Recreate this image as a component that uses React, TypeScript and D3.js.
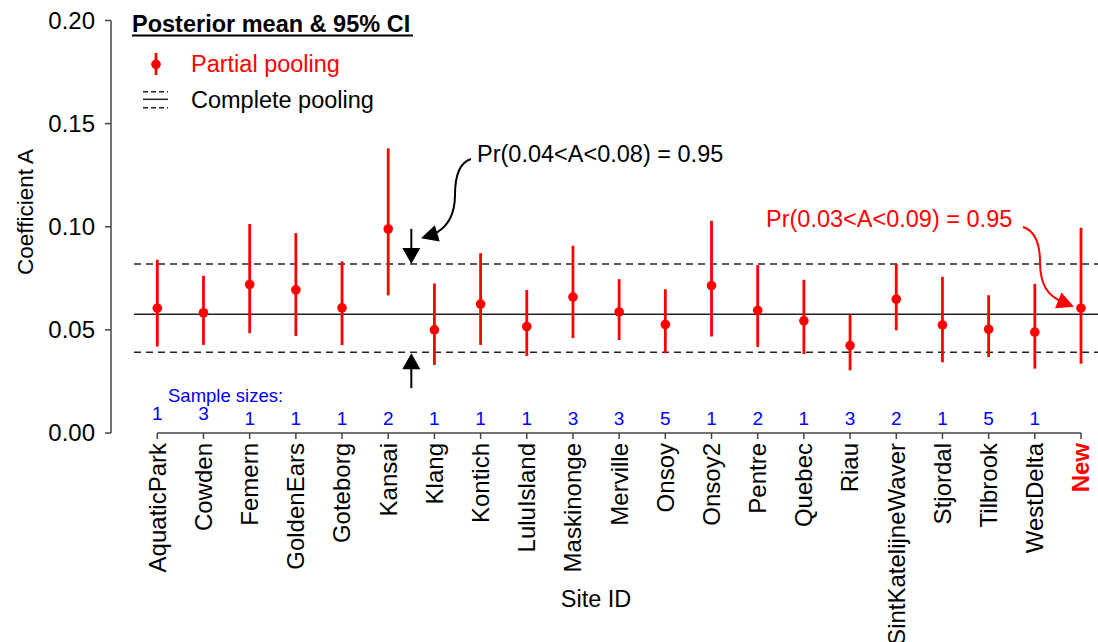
import React from "react";
import * as d3 from "d3";

const sites = [
  "AquaticPark", "Cowden", "Femern", "GoldenEars", "Goteborg", "Kansai", "Klang",
  "Kontich", "LuluIsland", "Maskinonge", "Merville", "Onsoy", "Onsoy2", "Pentre",
  "Quebec", "Riau", "SintKatelijneWaver", "Stjordal", "Tilbrook", "WestDelta", "New",
];
const means = [
  0.0605, 0.0583, 0.072, 0.0694, 0.0607, 0.0989, 0.05, 0.0625, 0.0516, 0.0659,
  0.0587, 0.0526, 0.0715, 0.0595, 0.0544, 0.0424, 0.0649, 0.0524, 0.0503, 0.0489, 0.0605,
];
const lower = [
  0.0419, 0.0427, 0.0484, 0.0471, 0.0426, 0.0667, 0.033, 0.0427, 0.0374, 0.046,
  0.0451, 0.0387, 0.0468, 0.0417, 0.0383, 0.0304, 0.0498, 0.0343, 0.0369, 0.0312, 0.0336,
];
const upper = [
  0.084, 0.0762, 0.1013, 0.0969, 0.0832, 0.138, 0.0725, 0.0872, 0.0693, 0.0908,
  0.0746, 0.0697, 0.1029, 0.0814, 0.0743, 0.0574, 0.082, 0.0757, 0.0668, 0.0723, 0.0995,
];
const sampleSizes = [1, 3, 1, 1, 1, 2, 1, 1, 1, 3, 3, 5, 1, 2, 1, 3, 2, 1, 5, 1];
const pooledMean = 0.0576;
const pooledLower = 0.0392;
const pooledUpper = 0.082;
const yTicks = [0, 0.05, 0.1, 0.15, 0.2];

const W = 1098;
const H = 642;
const FONT = "'Liberation Sans', Arial, Helvetica, sans-serif";
const RED = "#ff0000";
const BLUE = "#0000ff";

function arrowHead(tx: number, ty: number, dx: number, dy: number, len: number, hw: number) {
  const n = Math.hypot(dx, dy);
  const ux = dx / n, uy = dy / n;
  const bx = tx - ux * len, by = ty - uy * len;
  const px = -uy, py = ux;
  return `${tx},${ty} ${bx + px * hw},${by + py * hw} ${bx - px * hw},${by - py * hw}`;
}

export default function App() {
  const x = d3.scalePoint<string>().domain(sites).range([157.3, 1081]);
  const y = d3.scaleLinear().domain([0, 0.2]).range([433, 20.5]);
  const xMid = ((x("Kansai") as number) + (x("Klang") as number)) / 2;
  const newX = x("New") as number;
  const newY = y(means[means.length - 1]);

  const a1 = { x: 477, y: 162 };
  const a2 = { x: 766, y: 227 };
  const p1 = `M${a1.x - 6},${a1.y - 3} C${a1.x - 19},${a1.y + 1} ${a1.x - 22},${a1.y + 16} ${a1.x - 22},${a1.y + 33} C${a1.x - 22},${a1.y + 53} ${a1.x - 29},${a1.y + 66} ${a1.x - 45},${a1.y + 73}`;
  const tip2 = { x: newX - 7, y: newY - 1.5 };
  const p2 = `M${a2.x + 257},${a2.y} C${a2.x + 269},${a2.y + 4} ${a2.x + 274},${a2.y + 18} ${a2.x + 274},${a2.y + 35} C${a2.x + 274},${a2.y + 58} ${a2.x + 282},${a2.y + 69} ${tip2.x - 12},${tip2.y - 5}`;

  const yUp = y(pooledUpper);
  const yLo = y(pooledLower);

  return (
    <svg width={W} height={H} style={{ position: "absolute", left: 0, top: 0, background: "#fff" }} fontFamily={FONT}>
      {/* reference lines */}
      <line x1={134} x2={W} y1={y(pooledMean)} y2={y(pooledMean)} stroke="#222" strokeWidth={1.5} />
      <line x1={134} x2={W} y1={yUp} y2={yUp} stroke="#222" strokeWidth={1.5} strokeDasharray="7,5" />
      <line x1={134} x2={W} y1={yLo} y2={yLo} stroke="#222" strokeWidth={1.5} strokeDasharray="7,5" />

      {/* y axis */}
      <line x1={111} x2={111} y1={y(0)} y2={y(0.2)} stroke="#444" strokeWidth={1.5} />
      {yTicks.map((t) => (
        <g key={t}>
          <line x1={105} x2={111} y1={y(t)} y2={y(t)} stroke="#444" strokeWidth={1.5} />
          <text x={95} y={y(t)} dy="0.35em" textAnchor="end" fontSize={24}>
            {t.toFixed(2)}
          </text>
        </g>
      ))}
      <text transform={`translate(33,212) rotate(-90)`} textAnchor="middle" fontSize={22.5}>
        Coefficient A
      </text>

      {/* x axis */}
      <line x1={x(sites[0])} x2={newX} y1={433} y2={433} stroke="#444" strokeWidth={1.5} />
      {sites.map((s, i) => {
        const xi = x(s) as number;
        const isNew = i === sites.length - 1;
        return (
          <g key={s}>
            <line x1={xi} x2={xi} y1={433} y2={439} stroke="#444" strokeWidth={1.5} />
            <text
              transform={`translate(${xi},443) rotate(-90)`}
              dy="0.35em"
              textAnchor="end"
              fontSize={24}
              fill={isNew ? RED : "#000"}
              fontWeight={isNew ? "bold" : "normal"}
            >
              {s}
            </text>
          </g>
        );
      })}
      <text x={596} y={607} textAnchor="middle" fontSize={23.5}>
        Site ID
      </text>

      {/* sample sizes */}
      <text x={168} y={402} fontSize={18.5} fill={BLUE}>
        Sample sizes:
      </text>
      {sampleSizes.map((n, i) => (
        <text key={i} x={x(sites[i]) as number} y={i < 2 ? 419.5 : 424.5} textAnchor="middle" fontSize={19} fill={BLUE}>
          {n}
        </text>
      ))}

      {/* error bars and points */}
      {sites.map((s, i) => {
        const xi = x(s) as number;
        return (
          <g key={s}>
            <line x1={xi} x2={xi} y1={y(lower[i])} y2={y(upper[i])} stroke={RED} strokeWidth={2.8} />
            <circle cx={xi} cy={y(means[i])} r={4.8} fill={RED} />
          </g>
        );
      })}

      {/* straight arrows */}
      <line x1={xMid} x2={xMid} y1={yUp - 35} y2={yUp - 12} stroke="#000" strokeWidth={2} />
      <polygon points={arrowHead(xMid, yUp, 0, 1, 16, 9)} fill="#000" />
      <line x1={xMid} x2={xMid} y1={yLo + 36} y2={yLo + 12} stroke="#000" strokeWidth={2} />
      <polygon points={arrowHead(xMid, yLo + 1, 0, -1, 16, 9)} fill="#000" />

      {/* curved annotations */}
      <path d={p1} fill="none" stroke="#000" strokeWidth={2} />
      <polygon points={arrowHead(a1.x - 56, a1.y + 76.3, -11, 3.3, 17, 8.5)} fill="#000" />
      <text x={a1.x} y={a1.y} fontSize={23.5}>
        Pr(0.04&lt;A&lt;0.08) = 0.95
      </text>

      <path d={p2} fill="none" stroke={RED} strokeWidth={2} />
      <polygon points={arrowHead(tip2.x, tip2.y, 14, 5.7, 17, 8.5)} fill={RED} />
      <text x={a2.x} y={a2.y} fontSize={23.5} fill={RED}>
        Pr(0.03&lt;A&lt;0.09) = 0.95
      </text>

      {/* legend */}
      <text x={132} y={32} fontSize={23.5} fontWeight="bold">
        Posterior mean &amp; 95% CI
      </text>
      <line x1={132} x2={413} y1={35.5} y2={35.5} stroke="#000" strokeWidth={2} />
      <line x1={156} x2={156} y1={53} y2={75} stroke={RED} strokeWidth={2.8} />
      <circle cx={156} cy={64.3} r={4.8} fill={RED} />
      <text x={191} y={72} fontSize={23.5} fill={RED}>
        Partial pooling
      </text>
      <line x1={143} x2={168} y1={91.7} y2={91.7} stroke="#222" strokeWidth={1.5} strokeDasharray="5,3" />
      <line x1={143} x2={168} y1={99.3} y2={99.3} stroke="#222" strokeWidth={1.5} />
      <line x1={143} x2={168} y1={107.7} y2={107.7} stroke="#222" strokeWidth={1.5} strokeDasharray="5,3" />
      <text x={191} y={108} fontSize={23.5}>
        Complete pooling
      </text>
    </svg>
  );
}
